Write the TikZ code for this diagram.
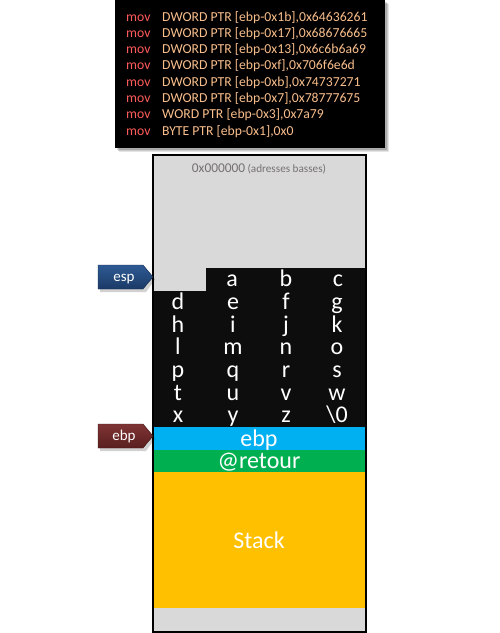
\documentclass[tikz,border=0pt]{standalone}
\usepackage{fontspec}
\setmainfont{Carlito}
\definecolor{codebg}{HTML}{000000}
\definecolor{movred}{HTML}{FF5B5B}
\definecolor{codeor}{HTML}{F9BE8C}
\definecolor{lowgray}{HTML}{D9D9D9}
\definecolor{cellblack}{HTML}{0D0D0D}
\definecolor{ebpblue}{HTML}{00B0F0}
\definecolor{retgreen}{HTML}{00B050}
\definecolor{stackyel}{HTML}{FFC000}
\definecolor{addrgray}{HTML}{767171}
\definecolor{espdark}{HTML}{1B3A66}
\definecolor{esplight}{HTML}{2E5A94}
\definecolor{ebpdark}{HTML}{5A1E1E}
\definecolor{ebplight}{HTML}{7E3434}
\begin{document}
\begin{tikzpicture}[x=1pt,y=-1pt,
  movtxt/.style={anchor=base west,inner sep=0pt,text=movred,font=\fontsize{13.7}{13.7}\selectfont},
  codetxt/.style={anchor=base west,inner sep=0pt,text=codeor,font=\fontsize{13.7}{13.7}\selectfont},
  cell/.style={anchor=base,inner sep=0pt,text=white,font=\fontsize{24}{24}\selectfont},
  ptrtxt/.style={anchor=base,inner sep=0pt,text=white,font=\fontsize{15}{15}\selectfont}]
\useasboundingbox (0,0) rectangle (500,633);
% code box with shadow
\foreach \o/\op in {4/0.10,3/0.12,2/0.15}{
  \fill[black,opacity=\op] (115+\o,\o) rectangle (385+\o,148+\o);}
\fill[codebg] (115,0) rectangle (385,148);
\foreach \i/\y/\t in {1/21/{DWORD PTR [ebp-0x1b],0x64636261},
                      2/37.3/{DWORD PTR [ebp-0x17],0x68676665},
                      3/53.6/{DWORD PTR [ebp-0x13],0x6c6b6a69},
                      4/69.9/{DWORD PTR [ebp-0xf],0x706f6e6d},
                      5/86.2/{DWORD PTR [ebp-0xb],0x74737271},
                      6/102.5/{DWORD PTR [ebp-0x7],0x78777675},
                      7/118.8/{WORD PTR [ebp-0x3],0x7a79},
                      8/135.1/{BYTE PTR [ebp-0x1],0x0}}{
  \node[movtxt] (mov\i) at (126,\y) {mov};
  \node[codetxt] (code\i) at (162,\y) {\t};
}
% stack
\fill[lowgray] (153,155) rectangle (366,632);
\fill[cellblack] (206,268) rectangle (366,291);
\fill[cellblack] (153,290.5) rectangle (366,427);
\fill[ebpblue] (153,427) rectangle (366,450);
\fill[retgreen] (153,450) rectangle (366,472);
\fill[stackyel] (153,472) rectangle (366,608);
\draw[line width=1.3pt] (153,155) rectangle (366,632);
\node[anchor=base,inner sep=0pt,text=addrgray] (addr) at (259,172)
  {{\fontsize{13.4}{13.4}\selectfont 0x000000} {\fontsize{11.2}{11.2}\selectfont(adresses basses)}};
% letters
\foreach \i/\t/\x/\y in {1/a/232/286.5,2/b/286/286.5,3/c/338/286.5,
   4/d/178/309.3,5/e/233/309.3,6/f/286/309.3,7/g/337/309.3,
   8/h/178/332,9/i/233/332,10/j/286/332,11/k/337/332,
   12/l/178/354.7,13/m/233/354.7,14/n/286/354.7,15/o/337/354.7,
   16/p/178/377.4,17/q/233/377.4,18/r/286/377.4,19/s/337/377.4,
   20/t/178/400.1,21/u/233/400.1,22/v/286/400.1,23/w/337/400.1,
   24/x/178/422.8,25/y/233/422.8,26/z/286/422.8,27/{\textbackslash 0}/337/422.8}{
  \node[cell] (cell\i) at (\x,\y) {\t};
}
\node[cell] (ebpcell) at (259,446) {ebp};
\node[cell] (retcell) at (259,468) {@retour};
\node[cell] (stackcell) at (259,548) {Stack};
% pointers
\fill[black,opacity=0.18] (100,268) -- (146,268) -- (155,279.5) -- (146,292) -- (100,292) -- cycle;
\shade[top color=esplight,bottom color=espdark,draw=espdark!70!black,line width=0.4pt]
  (98,265) -- (143,265) -- (153,277) -- (143,289) -- (98,289) -- cycle;
\node[ptrtxt] (esp) at (124,281.5) {esp};
\fill[black,opacity=0.18] (100,427) -- (146,427) -- (155,438.5) -- (146,451) -- (100,451) -- cycle;
\shade[top color=ebplight,bottom color=ebpdark,draw=ebpdark!70!black,line width=0.4pt]
  (98,424) -- (143,424) -- (153,436) -- (143,448) -- (98,448) -- cycle;
\node[ptrtxt] (ebp) at (124,440.5) {ebp};
\end{tikzpicture}
\end{document}
